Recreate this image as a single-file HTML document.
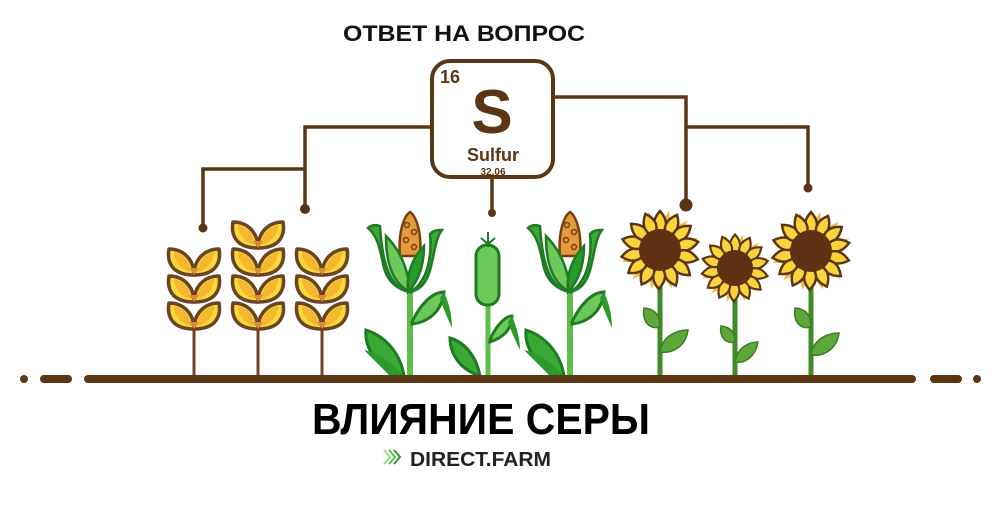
<!DOCTYPE html>
<html><head><meta charset="utf-8"><style>
html,body{margin:0;padding:0;background:#fff;width:996px;height:507px;overflow:hidden}
svg{display:block}
text{font-family:"Liberation Sans",sans-serif;font-weight:bold}
</style></head><body>
<svg width="996" height="507" viewBox="0 0 996 507" xmlns="http://www.w3.org/2000/svg">
<defs>
<g id="gr">
<path d="M0,27 C0,12 -10,1 -25,1 C-27,12 -24,27 0,27 Z" fill="#f9d93a" stroke="#6b4423" stroke-width="3.5" stroke-linejoin="round"/>
<path d="M0,27 C0,12 10,1 25,1 C27,12 24,27 0,27 Z" fill="#f9d93a" stroke="#6b4423" stroke-width="3.5" stroke-linejoin="round"/>
<path d="M-3,24 C-4,14 -10,6 -20,4 C-20,12 -14,22 -3,24Z" fill="#f3b830"/>
<path d="M3,24 C4,14 10,6 20,4 C20,12 14,22 3,24Z" fill="#f3b830"/>
<path d="M-5,20 L5,20 L0,27Z" fill="#d98a3a"/>
</g>
<path id="bp" d="M0,-40 L8,-18 L-8,-18Z" fill="#f2b93a"/>
<path id="pt" d="M0,-39 C8,-30 8,-22 0,-15 C-8,-22 -8,-30 0,-39Z" fill="#fcd33b" stroke="#5a3614" stroke-width="2.5"/>
<g id="sf">
<use href="#bp" transform="rotate(13)"/><use href="#bp" transform="rotate(43)"/><use href="#bp" transform="rotate(73)"/><use href="#bp" transform="rotate(103)"/><use href="#bp" transform="rotate(133)"/><use href="#bp" transform="rotate(163)"/><use href="#bp" transform="rotate(193)"/><use href="#bp" transform="rotate(223)"/><use href="#bp" transform="rotate(253)"/><use href="#bp" transform="rotate(283)"/><use href="#bp" transform="rotate(313)"/><use href="#bp" transform="rotate(343)"/>
<use href="#pt"/><use href="#pt" transform="rotate(26)"/><use href="#pt" transform="rotate(52)"/><use href="#pt" transform="rotate(78)"/><use href="#pt" transform="rotate(104)"/><use href="#pt" transform="rotate(130)"/><use href="#pt" transform="rotate(156)"/><use href="#pt" transform="rotate(182)"/><use href="#pt" transform="rotate(208)"/><use href="#pt" transform="rotate(234)"/><use href="#pt" transform="rotate(260)"/><use href="#pt" transform="rotate(286)"/><use href="#pt" transform="rotate(312)"/><use href="#pt" transform="rotate(338)"/>
<circle r="21" fill="#5e3212"/>
</g>
<g id="corn">
<line x1="0" y1="280" x2="0" y2="376" stroke="#5cbf4a" stroke-width="6"/>
<path d="M-6,376 C-10,350 -28,335 -44,330 C-46,352 -28,370 -6,376Z" fill="#3aa935" stroke="#1f7a24" stroke-width="3"/>
<path d="M-6,376 C-20,360 -36,352 -46,350 L-20,376Z" fill="#2a9a2c"/>
<path d="M2,322 C10,305 22,292 34,292 C32,310 20,322 2,324Z" fill="#6cc95a" stroke="#1f7a24" stroke-width="3"/>
<path d="M34,292 C40,305 42,318 42,328 C36,315 32,305 30,298Z" fill="#2a9a2c"/>
<path d="M-10,256 C-12,232 -6,216 0,212 C6,216 12,232 10,256Z" fill="#e39a3c" stroke="#7a3e14" stroke-width="2.5"/>
<circle cx="-3" cy="225" r="2.5" fill="none" stroke="#7a3e14" stroke-width="1.5"/><circle cx="4" cy="232" r="2.5" fill="none" stroke="#7a3e14" stroke-width="1.5"/><circle cx="-4" cy="240" r="2.5" fill="none" stroke="#7a3e14" stroke-width="1.5"/><circle cx="4" cy="247" r="2.5" fill="none" stroke="#7a3e14" stroke-width="1.5"/>
<path d="M0,292 C-22,288 -28,258 -30,226 C-36,224 -40,226 -42,228 C-32,236 -30,250 -26,268 C-22,282 -12,290 0,292Z" fill="#3aa935" stroke="#1f7a24" stroke-width="2.5"/>
<path d="M0,292 C-20,282 -24,258 -24,236 C-12,248 -2,266 0,292Z" fill="#6cc95a" stroke="#1f7a24" stroke-width="2.5"/>
<path d="M0,292 C18,282 22,256 20,234 C24,230 28,230 32,230 C24,240 24,262 18,276 C14,286 8,290 0,292Z" fill="#3aa935" stroke="#1f7a24" stroke-width="2.5"/>
<path d="M-2,292 C10,280 14,262 14,246 C4,256 -4,272 -2,292Z" fill="#2a9a2c" stroke="#1f7a24" stroke-width="2.5"/>
</g>
</defs>

<text x="343" y="41" font-size="22" textLength="242" lengthAdjust="spacingAndGlyphs" fill="#111">ОТВЕТ НА ВОПРОС</text>

<g stroke="#5a3614" stroke-width="3.5" fill="none">
<path d="M431,127 H305 V209"/>
<path d="M305,169 H203 V228"/>
<path d="M492,177 V213"/>
<path d="M553,97 H686 V204"/>
<path d="M686,127 H808 V187"/>
</g>
<g fill="#5a3614">
<circle cx="305" cy="209" r="5"/><circle cx="203" cy="228" r="4.5"/><circle cx="492" cy="213" r="4"/><circle cx="686" cy="205" r="6.5"/><circle cx="808" cy="188" r="4.5"/>
</g>
<rect x="432" y="61" width="121" height="116" rx="18" fill="#fff" stroke="#5a3614" stroke-width="4"/>
<text x="440" y="83" font-size="18" fill="#5a3614">16</text>
<text x="492" y="133" font-size="62" text-anchor="middle" fill="#5a3614">S</text>
<text x="493" y="161" font-size="18" text-anchor="middle" fill="#5a3614">Sulfur</text>
<text x="493" y="175" font-size="10" text-anchor="middle" fill="#5a3614" font-weight="normal">32.06</text>

<!-- wheat -->
<g stroke="#6b4423" stroke-width="3"><line x1="194" y1="320" x2="194" y2="378"/><line x1="258" y1="320" x2="258" y2="378"/><line x1="322" y1="320" x2="322" y2="378"/></g>
<use href="#gr" x="194" y="248"/><use href="#gr" x="194" y="275"/><use href="#gr" x="194" y="302"/>
<use href="#gr" x="258" y="221"/><use href="#gr" x="258" y="248"/><use href="#gr" x="258" y="275"/><use href="#gr" x="258" y="302"/>
<use href="#gr" x="322" y="248"/><use href="#gr" x="322" y="275"/><use href="#gr" x="322" y="302"/>

<!-- corn -->
<use href="#corn" x="410" y="0"/>
<use href="#corn" x="570" y="0"/>
<g>
<line x1="488" y1="290" x2="488" y2="376" stroke="#5cbf4a" stroke-width="5"/>
<path d="M480,376 C476,355 464,342 450,338 C450,356 462,370 480,376Z" fill="#3aa935" stroke="#1f7a24" stroke-width="3"/>
<path d="M490,340 C496,325 506,316 512,316 C512,330 502,338 490,342Z" fill="#6cc95a" stroke="#1f7a24" stroke-width="3"/>
<path d="M512,316 C518,330 520,342 520,350 C514,338 510,328 508,322Z" fill="#2a9a2c"/>
<rect x="476" y="245" width="23" height="60" rx="11" fill="#6cc95a" stroke="#1f7a24" stroke-width="3"/>
<path d="M488,232 V247 M481,238 L488,244 L495,238" stroke="#1f7a24" stroke-width="2" fill="none"/>
</g>

<!-- sunflowers -->
<g stroke="#3f8a2a" stroke-width="5"><line x1="660" y1="280" x2="660" y2="376"/><line x1="735" y1="295" x2="735" y2="376"/><line x1="811" y1="285" x2="811" y2="376"/></g>
<g fill="#5ea83a" stroke="#3c7d28" stroke-width="1.5">
<path d="M660,327 C648,330 642,320 644,308 C656,309 660,316 660,327Z"/><path d="M660,352 C662,338 674,330 688,330 C686,345 674,354 660,352Z"/>
<path d="M735,342 C725,344 719,336 721,326 C731,327 735,333 735,342Z"/><path d="M735,362 C737,349 747,342 758,342 C756,355 746,364 735,362Z"/>
<path d="M811,327 C799,330 793,320 795,308 C807,309 811,316 811,327Z"/><path d="M811,355 C813,341 825,333 839,333 C837,348 825,357 811,355Z"/>
</g>
<use href="#sf" transform="translate(660,250)"/>
<use href="#sf" transform="translate(735,268) scale(0.86)"/>
<use href="#sf" transform="translate(811,251)"/>

<!-- ground -->
<g stroke="#5a3614" stroke-width="8" stroke-linecap="round">
<line x1="88" y1="379" x2="912" y2="379"/>
<line x1="44" y1="379" x2="68" y2="379"/>
<line x1="934" y1="379" x2="958" y2="379"/>
</g>
<circle cx="24" cy="379" r="4" fill="#5a3614"/><circle cx="977" cy="379" r="4" fill="#5a3614"/>

<text x="312" y="434" font-size="44" textLength="338" lengthAdjust="spacingAndGlyphs" fill="#000">ВЛИЯНИЕ СЕРЫ</text>
<g fill="none" stroke-width="2">
<path d="M384,450 L390,457 L384,464" stroke="#9ed87a"/><path d="M389,450 L395,457 L389,464" stroke="#5cbf4a"/><path d="M394,450 L400,457 L394,464" stroke="#2a9a2c"/>
</g>
<text x="410" y="466" font-size="20" textLength="141" lengthAdjust="spacingAndGlyphs" fill="#222">DIRECT.FARM</text>
</svg>
</body></html>
